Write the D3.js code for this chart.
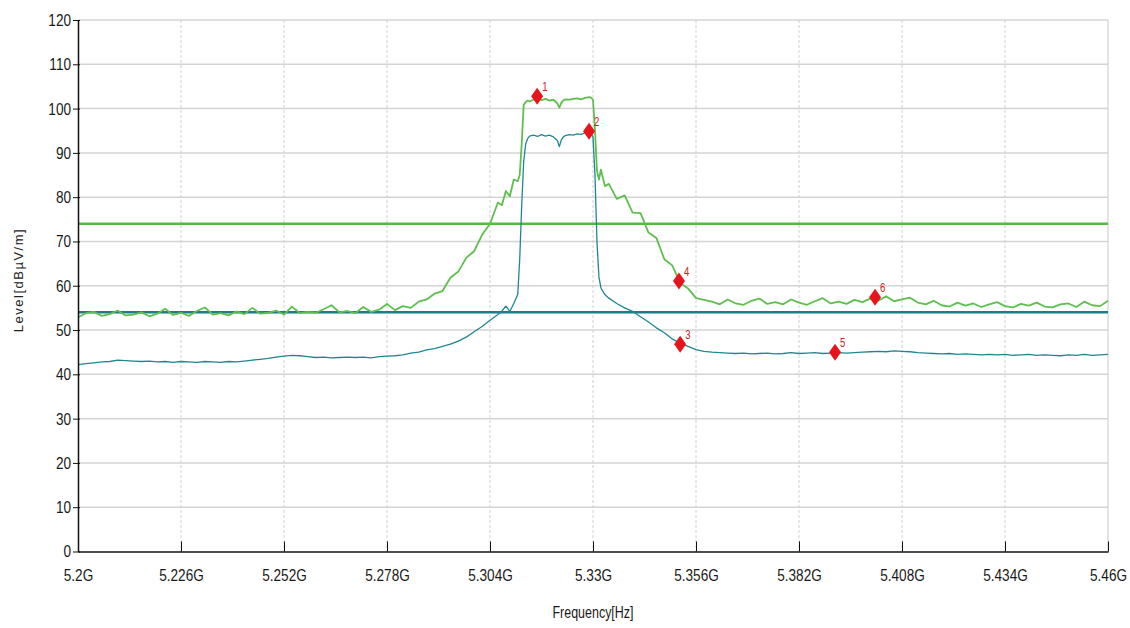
<!DOCTYPE html>
<html><head><meta charset="utf-8">
<script src="https://cdn.jsdelivr.net/npm/d3@7/dist/d3.min.js"></script>
<style>
html,body{margin:0;padding:0;background:#fff;}
svg{display:block;}
.tick text{font-family:"Liberation Sans",Arial,sans-serif;font-size:17px;fill:#1a1a1a;}
</style></head>
<body><svg id="c" width="1130" height="628"></svg>
<script>
// ---- data ----
const freqGHz = [
 5.200,5.202,5.204,5.206,5.208,5.210,5.212,5.214,5.216,5.218,
 5.220,5.222,5.224,5.226,5.228,5.230,5.232,5.234,5.236,5.238,
 5.240,5.242,5.244,5.246,5.248,5.250,5.252,5.254,5.256,5.258,
 5.260,5.262,5.264,5.266,5.268,5.270,5.272,5.274,5.276,5.278,
 5.280,5.282,5.284,5.286,5.288,5.290,5.292,5.294,5.296,5.298,
 5.300,5.302,5.304,5.306,
 5.307,5.308,5.309,5.310,5.311,5.3115,5.312,5.3125,5.313,5.3135,
 5.314,5.315,5.316,5.317,5.318,5.319,5.320,5.321,5.3215,5.322,
 5.3225,5.323,5.324,5.325,5.326,5.327,5.328,5.329,5.3295,5.330,
 5.3305,5.331,5.3315,5.332,5.333,5.334,
 5.336,5.338,5.340,5.342,5.344,5.346,5.348,5.350,5.352,5.354,
 5.356,
 5.358,5.360,5.362,5.364,5.366,5.368,5.370,5.372,5.374,5.376,
 5.378,5.380,5.382,5.384,5.386,5.388,5.390,5.392,5.394,5.396,
 5.398,5.400,5.402,5.404,5.406,5.408,5.410,5.412,5.414,5.416,
 5.418,5.420,5.422,5.424,5.426,5.428,5.430,5.432,5.434,5.436,
 5.438,5.440,5.442,5.444,5.446,5.448,5.450,5.452,5.454,5.456,
 5.458,5.460
];
const peakLevel = [
 52.9,53.8,54.1,53.2,53.6,54.4,53.3,53.5,54.0,53.1,
 53.7,54.8,53.4,53.9,53.2,54.3,55.1,53.5,53.8,53.3,
 54.2,53.6,55.0,53.7,53.9,54.4,53.5,55.3,53.8,54.1,
 53.9,54.7,55.6,54.0,54.3,53.8,55.2,54.1,54.6,55.9,
 54.5,55.4,55.0,56.4,56.9,58.2,58.8,61.8,63.2,66.3,
 67.8,71.5,74.0,78.8,
 78.2,81.4,80.2,84.0,83.6,85.0,92.0,100.8,101.5,101.8,
 101.6,102.0,102.4,101.9,102.2,101.8,102.0,101.2,100.2,101.3,
 101.8,102.1,102.0,102.2,102.3,102.1,102.4,102.6,102.5,102.0,
 95.0,86.0,84.0,86.2,82.5,83.0,
 79.6,80.4,76.5,76.4,72.0,70.8,66.0,64.6,60.6,59.4,
 57.2,
 56.8,56.4,55.8,56.9,56.0,55.7,56.6,57.1,55.9,56.3,
 55.8,56.9,56.2,55.7,56.5,57.2,56.0,56.4,55.9,56.8,
 56.3,57.1,56.6,57.6,56.5,56.9,57.3,56.2,55.8,56.6,
 55.6,55.3,56.2,55.5,56.0,55.2,55.8,56.3,55.4,55.1,
 55.9,55.5,56.2,55.3,55.1,55.8,56.0,55.2,56.4,55.6,
 55.4,56.6
];
const avgLevel = [
 42.2,42.4,42.6,42.8,42.9,43.2,43.1,43.0,42.9,43.0,
 42.8,42.9,42.7,42.9,42.8,42.7,42.9,42.8,42.7,42.9,
 42.8,43.0,43.2,43.4,43.6,43.9,44.1,44.3,44.2,44.0,
 43.8,43.9,43.7,43.8,43.9,43.8,43.9,43.7,44.0,44.1,
 44.2,44.4,44.8,45.0,45.5,45.8,46.3,46.8,47.5,48.4,
 49.6,50.8,52.2,53.5,
 54.3,55.4,54.2,56.0,58.0,66.0,78.0,88.0,92.0,93.2,
 93.8,94.0,93.7,94.1,93.8,94.0,93.6,92.8,91.4,92.9,
 93.6,93.9,94.1,94.0,94.3,94.2,94.5,94.8,94.6,93.5,
 85.0,70.0,62.0,59.5,58.0,57.2,
 56.0,55.0,54.2,53.0,51.8,50.5,49.4,48.0,47.0,46.3,
 45.6,
 45.2,45.0,44.9,44.8,44.7,44.8,44.6,44.7,44.8,44.6,
 44.7,44.9,44.7,44.8,44.9,44.7,44.8,44.9,44.8,44.9,
 45.0,45.1,45.2,45.1,45.3,45.2,45.1,44.9,44.8,44.7,
 44.6,44.7,44.5,44.6,44.5,44.4,44.5,44.4,44.5,44.3,
 44.4,44.5,44.3,44.4,44.3,44.2,44.4,44.3,44.5,44.3,
 44.4,44.5
];
const peakLimit = 74;
const avgLimit = 54;
const markerIds   = ["1","2","3","4","5","6"];
const markerFreq  = [5.3159,5.3290,5.3520,5.3517,5.3911,5.4012];
const markerLevel = [102.8,94.9,46.8,61.1,45.0,57.4];
const xTicks = [5.2,5.226,5.252,5.278,5.304,5.33,5.356,5.382,5.408,5.434,5.46];
const xTickLabels = ["5.2G","5.226G","5.252G","5.278G","5.304G","5.33G","5.356G","5.382G","5.408G","5.434G","5.46G"];
const yTicks = [0,10,20,30,40,50,60,70,80,90,100,110,120];

// ---- chart ----
const L=78, R=1108, T=20, B=551.5;
const NARROW = 0.8;
const svg = d3.select("#c");
const x = d3.scaleLinear().domain([5.2,5.46]).range([L,R]);
const y = d3.scaleLinear().domain([0,120]).range([B,T]);

// grid
const g = svg.append("g");
g.selectAll("line.h").data(yTicks.slice(1)).join("line")
  .attr("x1",L).attr("x2",R).attr("y1",d=>y(d)).attr("y2",d=>y(d))
  .attr("stroke","#d4d4d4").attr("stroke-width",1.5);
g.selectAll("line.v").data(xTicks.slice(1)).join("line")
  .attr("x1",d=>x(d)).attr("x2",d=>x(d)).attr("y1",T).attr("y2",B)
  .attr("stroke",(d,i)=> i===xTicks.length-2 ? "#c8c8c8" : "#d0d0d0")
  .attr("stroke-width",1)
  .attr("stroke-dasharray",(d,i)=> i===xTicks.length-2 ? null : "3,2");

// limit lines
svg.append("line").attr("x1",L).attr("x2",R).attr("y1",y(peakLimit)).attr("y2",y(peakLimit))
  .attr("stroke","#55b944").attr("stroke-width",2.5);
svg.append("line").attr("x1",L).attr("x2",R).attr("y1",y(avgLimit)).attr("y2",y(avgLimit))
  .attr("stroke","#1b7d88").attr("stroke-width",2.5);

// traces
const pts = (vals)=> freqGHz.map((f,i)=>[f,vals[i]]);
const line = d3.line().x(d=>x(d[0])).y(d=>y(d[1]));
svg.append("path").datum(pts(peakLevel)).attr("d",line)
  .attr("fill","none").attr("stroke","#5fbf4e").attr("stroke-width",1.8).attr("stroke-linejoin","round");
svg.append("path").datum(pts(avgLevel)).attr("d",line)
  .attr("fill","none").attr("stroke","#1f8790").attr("stroke-width",1.3).attr("stroke-linejoin","round");

// axes
const ax = d3.axisBottom(x).tickValues(xTicks).tickFormat((d,i)=>xTickLabels[i])
  .tickSizeInner(-10).tickSizeOuter(0).tickPadding(17);
const axG = svg.append("g").attr("transform",`translate(0,${B})`).call(ax);
axG.select(".domain").attr("stroke","#111").attr("stroke-width",1.5);
axG.selectAll(".tick line").attr("stroke","#111");
axG.selectAll(".tick text").attr("transform",`scale(${NARROW},1)`);

const ay = d3.axisLeft(y).tickValues(yTicks).tickSizeInner(5).tickSizeOuter(0).tickPadding(2);
const ayG = svg.append("g").attr("transform",`translate(${L},0)`).call(ay);
ayG.select(".domain").attr("stroke","#111").attr("stroke-width",1.5);
ayG.selectAll(".tick line").attr("stroke","#111").attr("x2",-5).attr("x1",2);
ayG.selectAll(".tick text").attr("x",-7/NARROW).attr("transform",`scale(${NARROW},1)`);

// markers
const mk = svg.append("g");
markerIds.forEach((id,i)=>{
  const cx = x(markerFreq[i]), cy = y(markerLevel[i]);
  mk.append("path").attr("d",`M${cx},${cy-8.5}L${cx+6},${cy}L${cx},${cy+8.5}L${cx-6},${cy}Z`)
    .attr("fill","#e8141c");
  mk.append("text").attr("transform",`translate(${cx+5},${cy-5}) scale(${NARROW},1)`).text(id)
    .attr("font-family","Liberation Sans, Arial, sans-serif").attr("font-size",12).attr("fill","#d42020");
});

// axis titles
svg.append("text").attr("transform",`translate(593,618) scale(0.78,1)`).attr("text-anchor","middle")
  .attr("font-family","Liberation Sans, Arial, sans-serif")
  .attr("font-size",16).attr("fill","#1a1a1a").text("Frequency[Hz]");
svg.append("text").attr("transform","translate(23,280) rotate(-90)").attr("text-anchor","middle")
  .attr("font-family","Liberation Sans, Arial, sans-serif").attr("font-size",13)
  .attr("letter-spacing","1.5").attr("fill","#222").text("Level[dBµV/m]");
</script></body></html>
